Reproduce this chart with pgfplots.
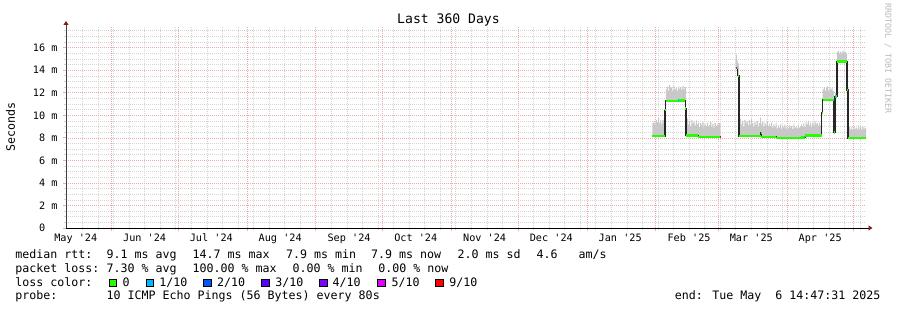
\documentclass[border=0pt]{standalone}
\usepackage{pgfplots}
\pgfplotsset{compat=1.18}
\usepackage{pgfplotstable}
\usepgfplotslibrary{fillbetween}
\usetikzlibrary{arrows.meta}
\usepackage{fontspec}
\setmainfont{DejaVu Sans Mono}[Ligatures=TeXOff]
\definecolor{mgridc}{RGB}{242,170,170}
\definecolor{gridc}{RGB}{212,212,212}
\definecolor{smoke}{RGB}{200,200,200}
\definecolor{lc0}{HTML}{26FF00}
\definecolor{lc1}{HTML}{00B8FF}
\definecolor{lc2}{HTML}{0059FF}
\definecolor{lc3}{HTML}{5E00FF}
\definecolor{lc4}{HTML}{7E00FF}
\definecolor{lc5}{HTML}{DD00FF}
\definecolor{lc9}{HTML}{FF0000}
\definecolor{arrowc}{HTML}{8B1A1A}
\definecolor{wmark}{RGB}{185,185,185}
\newcommand\lgd{\fontsize{11.63bp}{14bp}\selectfont}
\begin{document}
\pgfplotstableread{
x y
263.9 9.3
264.4 9.5
264.9 9.2
265.4 9.6
265.9 9.4
266.4 9.75
266.9 9.3
267.4 9.55
267.9 9.2
268.4 9.6
268.9 9.35
269.4 9.5
269.9 12.3
270.4 12.55
270.9 12.2
271.4 12.7
271.9 12.4
272.4 12.5
272.9 12.2
273.4 12.6
273.9 12.3
274.4 12.45
274.9 12.2
275.4 12.55
275.9 12.35
276.4 12.5
276.9 12.25
277.4 12.6
277.9 12.3
278.4 12.5
278.9 9.4
279.4 9.7
279.9 9.2
280.4 9.5
280.9 9.05
281.4 9.6
281.9 9.3
282.4 9.45
282.9 9.1
283.4 9.55
283.9 9.2
284.4 9.35
284.9 8.95
285.4 9.3
285.9 9.1
286.4 9.4
286.9 8.9
287.4 9.2
287.9 9.0
288.4 9.35
288.9 8.95
289.4 9.15
289.9 9.4
290.4 9.0
290.9 9.25
291.4 8.9
291.9 9.3
292.4 9.05
292.9 9.2
293.4 8.95
293.9 9.3
294.5 9.3
}\topA
\pgfplotstableread{
x y
263.9 8.1
269.9 11.2
278.9 8.12
284.5 8.0
294.5 8.0
}\botA
\pgfplotstableread{
x y
301.3 15.0
301.6 15.35
301.9 14.9
302.2 14.6
302.8 9.5
303.3 9.7
303.8 9.2
304.3 9.5
304.8 9.0
305.3 9.6
305.8 9.3
306.3 9.45
306.8 9.1
307.3 9.55
307.8 9.2
308.3 9.7
308.8 9.3
309.3 9.0
309.8 9.4
310.3 9.15
310.8 9.5
311.3 9.0
311.8 9.3
312.3 9.8
312.8 9.2
313.3 9.4
313.8 9.0
314.3 9.3
314.8 9.1
315.3 9.5
315.8 8.95
316.3 9.25
316.8 9.0
317.3 9.35
317.8 8.9
318.3 9.2
318.8 9.0
319.3 9.3
319.8 8.85
320.3 9.1
320.8 8.9
321.3 9.2
321.8 8.8
322.3 9.05
322.8 8.9
323.3 9.15
323.8 8.8
324.3 9.0
324.8 8.85
325.3 9.1
325.8 8.9
326.3 9.05
326.8 8.8
327.3 9.2
327.8 8.9
328.3 9.0
328.8 8.85
329.3 9.1
329.8 8.9
330.3 9.0
330.8 9.2
331.3 8.95
331.8 9.3
332.3 9.0
332.8 9.4
333.3 9.2
333.8 9.5
334.3 9.1
334.8 9.35
335.3 9.0
335.8 9.3
336.3 9.1
336.8 9.45
337.3 9.2
337.8 9.3
338.3 9.05
338.8 9.35
339.3 9.1
339.8 9.2
340.1 10.5
340.5 12.3
341.0 12.5
341.5 12.2
342.0 12.4
342.5 12.55
343.0 12.2
343.5 12.45
344.0 12.3
344.5 12.4
345.0 12.15
345.5 8.9
346.0 12.0
346.9 15.6
347.4 15.7
347.9 15.5
348.4 15.65
348.9 15.5
349.4 15.7
349.9 15.55
350.4 15.6
350.9 15.45
351.5 12.6
351.9 8.8
352.4 9.0
352.9 8.75
353.4 8.95
353.9 8.7
354.4 9.05
354.9 8.8
355.4 8.9
355.9 8.75
356.4 9.1
356.9 8.8
357.4 8.95
357.9 8.7
358.4 9.0
358.9 8.8
359.4 8.9
360 8.9
}\topB
\pgfplotstableread{
x y
301.3 14.1
302.2 13.4
302.8 8.1
312.9 8.05
319.6 7.94
330.9 8.0
332.7 8.12
340.1 10.2
340.5 11.3
345.5 8.4
346.0 11.6
346.9 14.7
351.5 12.2
351.9 7.9
360 7.9
}\botB
\pgfplotstableread{
x y
263.9 8.16
269.6 10.45
269.9 11.27
276.0 11.33
278.7 10.6
279.0 8.19
284.5 8.07
294.5 8.07
297 nan
301.3 14.22
302.3 13.5
302.8 8.16
312.7 8.45
312.95 8.1
319.6 7.99
330.9 8.04
332.7 8.19
340.1 10.23
340.5 11.36
345.5 8.46
346.0 11.65
346.9 14.76
351.5 12.25
351.9 7.96
360 7.96
}\median
\begin{tikzpicture}[x=1bp,y=1bp]
\begin{axis}[
  at={(66bp,82bp)}, anchor=south west,
  scale only axis, width=800bp, height=200.5bp,
  xmin=0, xmax=360, ymin=0, ymax=17.79,
  axis lines=left,
  clip=true,
  xtick={20.384,50.384,81.384,112.384,142.384,173.384,203.384,234.384,265.384,293.384,324.384,354.384},
  xticklabels={},
  minor xtick={7.385,14.385,...,357},
  extra x ticks={4.384,35.384,65.384,96.384,127.384,157.384,188.384,218.384,249.384,280.384,308.384,339.384},
  extra x tick labels={May '24,Jun '24,Jul '24,Aug '24,Sep '24,Oct '24,Nov '24,Dec '24,Jan '25,Feb '25,Mar '25,Apr '25},
  extra x tick style={grid=none, major tick length=0pt},
  ytick={0,2,...,16},
  yticklabels={0\phantom{\ m},2 m,4 m,6 m,8 m,10 m,12 m,14 m,16 m},
  minor ytick={0.5,1,...,17.5},
  grid=both,
  major grid style={draw=mgridc, line width=0.65bp, dash pattern=on 1bp off 1bp},
  minor grid style={draw=gridc, line width=0.65bp, dash pattern=on 1bp off 1bp},
  tick align=outside,
  major tick length=3bp, minor tick length=2bp,
  every major tick/.append style={draw=mgridc, line width=0.7bp},
  every minor tick/.append style={draw=gridc, line width=0.7bp},
  tick label style={font=\fontsize{10.2bp}{12bp}\selectfont, inner sep=0pt},
  xticklabel style={anchor=base},
  xticklabel shift=13bp,
  yticklabel shift=5.3bp,
  x axis line style={draw=black, line width=0.9bp, shorten >=-6.5bp, -{Triangle[length=4bp,width=5bp,color=arrowc]}},
  y axis line style={draw=black!75, line width=0.9bp, shorten >=-6.5bp, -{Triangle[length=4bp,width=5bp,color=arrowc]}},
]
\addplot[name path=topA, const plot, draw=none, forget plot] table {\topA};
\addplot[name path=botA, const plot, draw=none, forget plot] table {\botA};
\addplot[fill=smoke, draw=none] fill between[of=topA and botA];
\addplot[name path=topB, const plot, draw=none, forget plot] table {\topB};
\addplot[name path=botB, const plot, draw=none, forget plot] table {\botB};
\addplot[fill=smoke, draw=none] fill between[of=topB and botB];
\addplot[const plot mark left, draw=black!85, line width=1.3bp, unbounded coords=jump] table {\median};
\addplot[jump mark left, draw=lc0, line width=2.4bp, unbounded coords=jump] table {\median};
\addplot[draw=lc1, line width=2.4bp] coordinates {(275.2,11.3) (275.8,11.3)};
\addplot[draw=lc9, line width=2.4bp] coordinates {(294.1,8.07) (294.5,8.07)};
\addplot[draw=lc5, line width=2.4bp] coordinates {(301.3,14.22) (301.6,14.22)};
\addplot[draw=lc1, line width=2.4bp] coordinates {(332.3,8.05) (332.7,8.05)};
\addplot[draw=lc1, line width=2.4bp] coordinates {(346.0,11.65) (346.4,11.65)};
\end{axis}
% title, unit, watermark
\node[anchor=base, inner sep=0, font=\fontsize{13.1bp}{15bp}\selectfont] at (448.5,286.5) {Last 360 Days};
\node[rotate=90, inner sep=0, font=\lgd] at (10.5,183.5) {Seconds};
\node[rotate=-90, inner sep=0, text=wmark, font=\fontsize{8.3bp}{10bp}\selectfont] at (888,251.5) {RRDTOOL / TOBI OETIKER};
% legend
\begin{scope}[every node/.style={anchor=base west, inner sep=0, font=\lgd}]
\node at (15.2,51.5) {median rtt:};
\node at (106.5,51.5) {9.1 ms avg};
\node at (192.5,51.5) {14.7 ms max};
\node at (285.9,51.5) {7.9 ms min};
\node at (370.9,51.5) {7.9 ms now};
\node at (457.5,51.5) {2.0 ms sd};
\node at (536.5,51.5) {4.6};
\node at (578.5,51.5) {am/s};
\node at (15.2,37.5) {packet loss:};
\node at (106.5,37.5) {7.30 \% avg};
\node at (192.5,37.5) {100.00 \% max};
\node at (292.5,37.5) {0.00 \% min};
\node at (378.2,37.5) {0.00 \% now};
\node at (15.2,23.5) {loss color:};
\node at (122.5,23.5) {0};
\node at (159.2,23.5) {1/10};
\node at (216.9,23.5) {2/10};
\node at (275.2,23.5) {3/10};
\node at (332.5,23.5) {4/10};
\node at (391.5,23.5) {5/10};
\node at (449.2,23.5) {9/10};
\node at (15.2,10.5) {probe:};
\node at (106.5,10.5) {10 ICMP Echo Pings (56 Bytes) every 80s};
\node[anchor=base east] at (880.5,10.5) {end: Tue May\ \ 6 14:47:31 2025};
\end{scope}
\begin{scope}[draw=black, line width=0.8bp]
\filldraw[fill=lc0] (109.1,23.9) rectangle ++(7.2,7.2);
\filldraw[fill=lc1] (146.4,23.9) rectangle ++(7.2,7.2);
\filldraw[fill=lc2] (203.7,23.9) rectangle ++(7.2,7.2);
\filldraw[fill=lc3] (261.7,23.9) rectangle ++(7.2,7.2);
\filldraw[fill=lc4] (319.7,23.9) rectangle ++(7.2,7.2);
\filldraw[fill=lc5] (377.7,23.9) rectangle ++(7.2,7.2);
\filldraw[fill=lc9] (435.7,23.9) rectangle ++(7.2,7.2);
\end{scope}
\pgfresetboundingbox
\useasboundingbox (0,0) rectangle (897,310);
\end{tikzpicture}
\end{document}
